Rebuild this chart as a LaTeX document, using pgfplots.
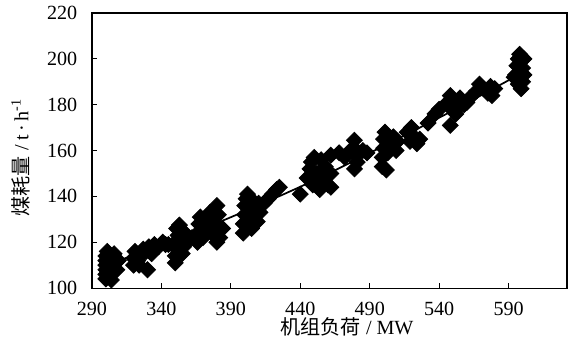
\documentclass[border=0pt]{standalone}
\usepackage{fontspec}
\setmainfont{Liberation Serif}
\newfontfamily\cjk{Noto Sans CJK SC}
\usepackage{pgfplots}
\pgfplotsset{compat=1.18}
\begin{document}
\fontsize{10.5}{12}\selectfont
\begin{tikzpicture}
\begin{axis}[
  name=ax,
  scale only axis,
  width=248pt, height=143.6pt,
  xmin=290, xmax=632, ymin=100, ymax=220,
  xtick={290,340,...,590}, ytick={100,120,...,220},
  tick pos=left, tick align=inside,
  major tick length=2.5pt,
  axis line style={line width=0.6pt},
  tick style={line width=0.6pt, black},
  /pgf/number format/assume math mode=true,
  ticklabel style={font=\fontsize{10.5}{12}\selectfont},
  xticklabel style={yshift=-3.5pt},
  yticklabel style={xshift=-4pt},
  every axis y label/.style={at={(axis description cs:-0.15,0.475)},rotate=90,anchor=center},
  every axis x label/.style={at={(axis description cs:0.537,-0.142)},anchor=center},
  xlabel={{\cjk 机组负荷} / MW},
  ylabel={{\cjk 煤耗量} / t\,·\,h\textsuperscript{-1}},
  label style={font=\fontsize{10.5}{12}\selectfont},
]
\addplot[only marks, mark=square*, mark size=2.95pt, mark options={rotate=45, fill=black, draw=black}] coordinates {
(300,104)(300,106)(300,108)(300,110)(300,112)(300,114)(301,116)(302,105)(303,109)(303,113)
(305,111)(305,107)(306,115)(304,103.5)(307,111)(309,112)(308,108)(302,115)
(320,110)(320,113)(321,116)(323,112)(325,114)(327,117)(330,108)(331,118)(333,115)(335,119)
(338,118)(341,120)(343,119)(345,119)(324,110)(329,116)
(350,111)(350,114)(351,117)(350,120)(352,123)(351,126)(353,127.5)(354,121)(355,115)(356,118)(357,124)
(358,120)(362,122)(365,121)
(366,120)(366,124)(367,128)(368,131)(370,122)(372,126)(374,130)(376,124)(378,128)(380,136)
(381,132)(382,122)(384,126)(380,120)(370,129)(375,133)
(399,124)(399,128)(400,132)(400,136)(401,139)(402,141)(403,130)(404,134)(405,126)(406,138)
(407,132)(408,135)(410,137)(411,133)(409,129)
(414,137)(417,139)(420,141)(423,143)(425,144)
(440,141)
(445,148)(447,152)(448,155)(450,157)(449,145)(452,150)(454,143)(456,147)(458,153)(460,145)
(462,150)(455,156)(462,144)
(462,158)(468,159)(472,157)(476,160)(479,164.5)(479,161)(480,158)(479,152)(481,155)(485,160)(488,159)
(499,153)(499,157)(500,161)(500,165)(501,168)(503,159)(505,163)(507,166)(509,160)(510,164)(502,151.5)
(517,168)(520,170)(522,166)(524,163)(526,165)(519,164)
(532,172)(537,176)(540,178)
(546,181)(548,184)(550,182)(549,178)(552,176)(548,171)(555,183)(558,180)(560,181)(554,179)(562,183)
(567,186)(569,189)(572,187)(575,185)(578,184)(577,188)(580,187)
(595,193)(596,197)(597,200)(598,202)(599,199)(600,196)(601,193)(600,190)(599,187)(597,189)(594,192)(601,200)
};
\addplot[black, line width=0.9pt, smooth] coordinates {
(300,110)(350,121)(400,133.5)(450,147)(500,162)(550,177.5)(600,194)
};
\end{axis}
\pgfresetboundingbox
\path[use as bounding box] ([shift={(-48pt,-35pt)}]ax.south west) rectangle ([shift={(4.2pt,6.8pt)}]ax.north east);
\end{tikzpicture}
\end{document}
